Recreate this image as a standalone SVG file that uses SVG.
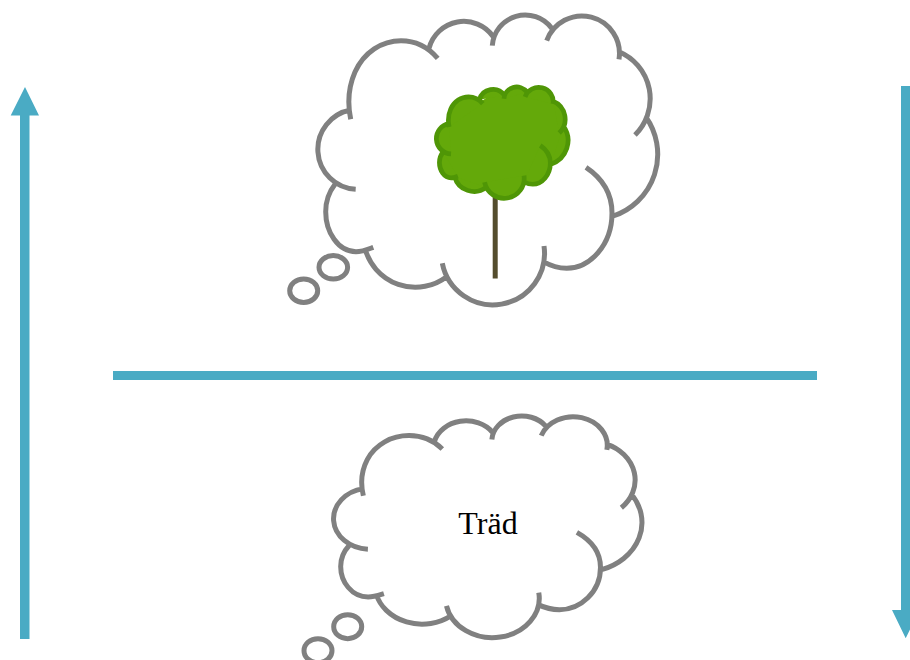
<svg xmlns="http://www.w3.org/2000/svg" width="910" height="660" viewBox="0 0 910 660">
  <style>
    .bubble { fill: #ffffff; stroke: #808080; stroke-width: 5; }
    .crown { fill: #64a90a; stroke: #4f9606; stroke-width: 4.7; }
    .core { stroke: none; }
    .arcs { vector-effect: non-scaling-stroke; stroke-linecap: butt; }
    .puff { fill: #ffffff; stroke: #808080; stroke-width: 5; }
    .bar { fill: #4aabc4; }
    .label { font-family: "Liberation Serif", "Times New Roman", serif; font-size: 32px; fill: #000000; text-anchor: middle; }
  </style>
  <defs>
    <g id="cloud">
      <path class="core" d="M385 62L433 53L461 34L493 37L522 24L550 28L585 28L619 52L640 90L645 117L650 165L613 216L600 240L544 262L495 295L447 277L405 280L365 248L338 225L335 184L326 150L351 110Z"/>
      <path class="arcs" d="M350.7 119.3C347.5 104 348 88 355 72C364 52 382 40.7 401 40.7C415 40.7 428 47 437.7 58.3M429 48.3A36 36 0 0 1 493.3 36.7M492.3 45.7A33 33 0 0 1 551.7 28.3M546.7 40.7A37.5 37.5 0 0 1 619 59.3M619 51.7A51 51 0 0 1 635 135M645.7 116.7A65 65 0 0 1 613.3 216M586 167.3C605 180 612 197 612 213C612 245 590 268.3 566.7 268.3C558 268.3 550 265.5 543.3 261.7M544 246A51.6 51.6 0 0 1 442.3 263.3M446.7 276.7A52 52 0 0 1 365 248.3M373.3 247.3C366 250 362 251.7 356 251.7C338 251.7 325.7 232 325.7 211.7C325.7 201 329 192 335 184.3M355.7 189.3A40 40 0 0 1 350.7 110"/>
    </g>
  </defs>
  <g id="connectors">
    <path class="bar" d="M20 639V115.5H10.7L25 87L39 115.5H29.5V639Z"/>
    <path class="bar" d="M901 86H910V610H919.4L905.7 638.3L892 610H901Z"/>
    <rect class="bar" x="113" y="371" width="704" height="9"/>
  </g>
  <g id="thought-top">
    <use href="#cloud" class="bubble"/>
    <ellipse class="puff" cx="333.3" cy="267.3" rx="14.3" ry="11.8"/>
    <ellipse class="puff" cx="303.7" cy="290.7" rx="14" ry="11.7"/>
  </g>
  <g id="tree">
    <rect x="492.7" y="197" width="5" height="81.5" fill="#544d2d"/>
    <use href="#cloud" class="crown" transform="translate(313.2 81.2) scale(.3875 .384)"/>
  </g>
  <g id="thought-bottom">
    <use href="#cloud" class="bubble" transform="translate(45.1 404.5) scale(.9075 .7647)"/>
    <ellipse class="puff" cx="347.7" cy="626.7" rx="14" ry="12"/>
    <ellipse class="puff" cx="318" cy="650.7" rx="14" ry="12"/>
    <text class="label" x="488" y="534">Träd</text>
  </g>
</svg>
